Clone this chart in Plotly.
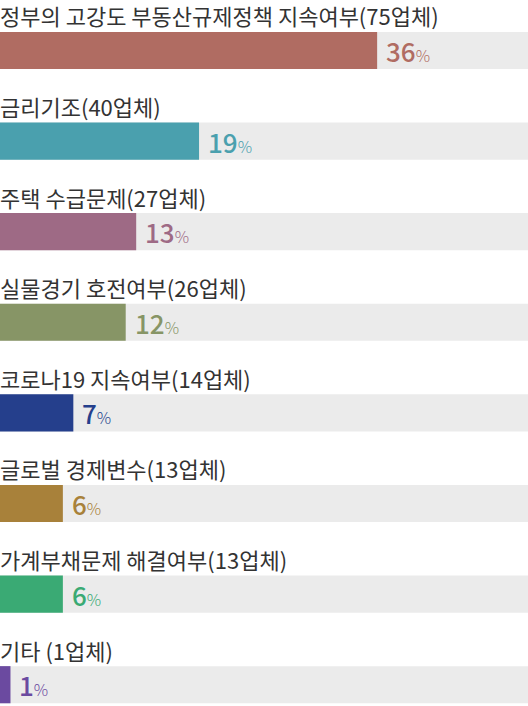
import plotly.graph_objects as go

labels = [
    "정부의 고강도 부동산규제정책 지속여부(75업체)",
    "금리기조(40업체)",
    "주택 수급문제(27업체)",
    "실물경기 호전여부(26업체)",
    "코로나19 지속여부(14업체)",
    "글로벌 경제변수(13업체)",
    "가계부채문제 해결여부(13업체)",
    "기타 (1업체)",
]
percents = [36, 19, 13, 12, 7, 6, 6, 1]
colors = ["#b06c62", "#4aa0ae", "#9e6a85", "#879566",
          "#253f8c", "#a8813a", "#3aaa74", "#6b4aa0"]

FONT = "Noto Sans CJK KR"
n = len(labels)
rows = list(range(n))
x_max = 50.4
bar_w = 0.41

fig = go.Figure()
fig.add_trace(go.Bar(
    y=rows, x=[x_max] * n, orientation="h", width=bar_w,
    marker=dict(color="#ebebeb", line=dict(width=0)),
    hoverinfo="skip", showlegend=False,
))
fig.add_trace(go.Bar(
    y=rows, x=percents, orientation="h", width=bar_w,
    marker=dict(color=colors, line=dict(width=0)),
    showlegend=False,
))

for i, (lab, p, c) in enumerate(zip(labels, percents, colors)):
    fig.add_annotation(
        x=0, y=i - 0.42, xref="x", yref="y", text=lab,
        showarrow=False, xanchor="left", yanchor="middle", xshift=-1, yshift=-3,
        borderpad=0,
        font=dict(family=FONT, size=22, color="#333333"),
    )
    fig.add_annotation(
        x=p, y=i, xref="x", yref="y",
        text=f"{p}<span style='font-size:16px;font-weight:300'>%</span>",
        showarrow=False, xanchor="left", yanchor="middle", xshift=7, yshift=0,
        font=dict(family=FONT, size=26, color=c, weight=500),
    )

fig.update_layout(
    width=528, height=706,
    margin=dict(l=0, r=0, t=0, b=0),
    paper_bgcolor="white", plot_bgcolor="white",
    barmode="overlay",
    xaxis=dict(range=[0, x_max], visible=False, fixedrange=True),
    yaxis=dict(range=[7.235, -0.557], visible=False, fixedrange=True),
    font=dict(family=FONT),
)

fig.write_html(
    "out.html",
    config={"displayModeBar": False},
    post_script="document.body.style.margin='0';document.body.style.padding='0';",
)
